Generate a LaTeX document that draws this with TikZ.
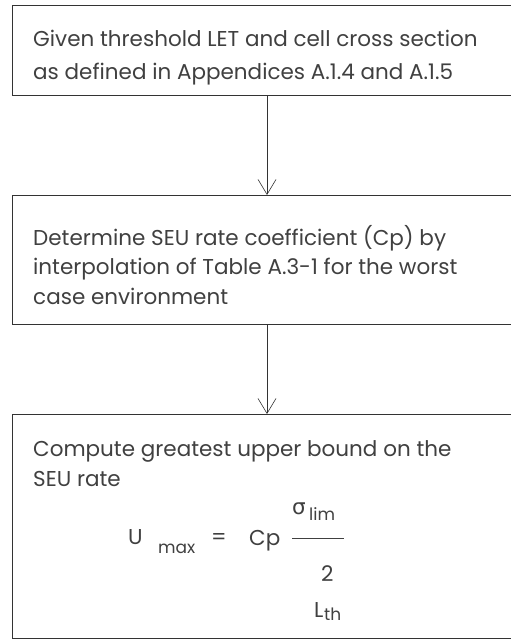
\documentclass[tikz,border=0pt]{standalone}
\usepackage{fontspec}
\setmainfont{Poppins}
\newfontfamily\symfont{DejaVu Sans}
\usetikzlibrary{arrows.meta}
\tikzset{
  boxshape/.style={draw=black!80, line width=0.9pt, rectangle, inner sep=0pt},
  txt/.style={anchor=base west, inner sep=0pt, font=\fontsize{21.5}{21.5}\selectfont, text=black!75},
  subtxt/.style={anchor=base west, inner sep=0pt, font=\fontsize{17}{17}\selectfont, text=black!75},
  arr/.style={draw=black!80, line width=0.6pt, -{Straight Barb[length=15pt,width=18pt,line width=0.6pt]}}
}
\begin{document}
\begin{tikzpicture}[x=1pt,y=-1pt]
\useasboundingbox (0,0) rectangle (511,640);
\clip (0,0) rectangle (511,640);
% boxes (right edges run off the page)
\node[boxshape, minimum width=508pt, minimum height=90pt, anchor=north west] (box1) at (12,5) {};
\node[boxshape, minimum width=508pt, minimum height=129pt, anchor=north west] (box2) at (12,195) {};
\node[boxshape, minimum width=508pt, minimum height=224pt, anchor=north west] (box3) at (12,414) {};
\coordinate (c1) at (267,95);
\coordinate (c2) at (267,195);
\coordinate (c3) at (267,324);
\coordinate (c4) at (267,414);
\draw[arr] (c1) -- (c2);
\draw[arr] (c3) -- (c4);
% texts
\node[txt] (t11) at (33,46) {Given threshold LET and cell cross section};
\node[txt] (t12) at (33,79) {as defined in Appendices A.1.4 and A.1.5};
\node[txt] (t21) at (33,245) {Determine SEU rate coefficient (Cp) by};
\node[txt] (t22) at (33,274) {interpolation of Table A.3-1 for the worst};
\node[txt] (t23) at (33,304) {case environment};
\node[txt] (t31) at (33,456) {Compute greatest upper bound on the};
\node[txt] (t32) at (33,486) {SEU rate};
% formula
\node[txt] (u) at (128,544) {U};
\node[subtxt] (umax) at (158,553) {max};
\node[txt] (eq) at (211,544) {=};
\node[txt] (cp) at (249,545) {Cp};
\node[txt] (sig) at (292,514) {{\symfont σ}};
\node[subtxt] (lim) at (309,520) {lim};
\coordinate (fl) at (292,538);
\coordinate (fr) at (344,538);
\draw[line width=0.9pt, black!75] (fl) -- (fr);
\node[txt] (two) at (321,581) {2};
\node[txt] (L) at (314,617) {L};
\node[subtxt] (th) at (324,620) {th};
\end{tikzpicture}
\end{document}
